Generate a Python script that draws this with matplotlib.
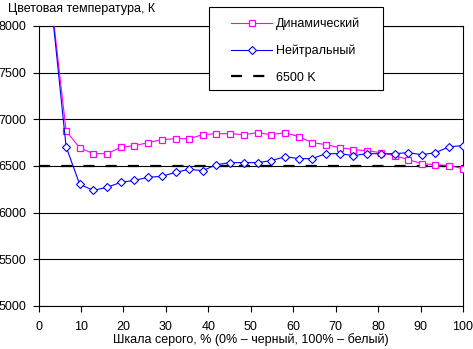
import matplotlib.pyplot as plt
from matplotlib.patches import Rectangle

# --- Datos ---
gray_pct = [3.2, 6.5, 9.7, 12.9, 16.1, 19.4, 22.6, 25.8, 29.0, 32.3, 35.5,
            38.7, 41.9, 45.2, 48.4, 51.6, 54.8, 58.1, 61.3, 64.5, 67.7, 71.0,
            74.2, 77.4, 80.6, 83.9, 87.1, 90.3, 93.5, 96.8, 100.0]

dynamic = [8200, 6875, 6695, 6632, 6632, 6700, 6718, 6750, 6782, 6793, 6793,
           6836, 6846, 6846, 6836, 6857, 6836, 6857, 6814, 6750, 6729, 6696,
           6675, 6664, 6643, 6611, 6568, 6525, 6514, 6504, 6471]

neutral = [8160, 6707, 6304, 6239, 6271, 6325, 6346, 6379, 6389, 6432, 6465,
           6450, 6514, 6536, 6536, 6536, 6557, 6600, 6579, 6579, 6632, 6632,
           6611, 6632, 6632, 6632, 6643, 6621, 6643, 6707, 6718]

ref_temp = 6500
y_ticks = [5000, 5500, 6000, 6500, 7000, 7500, 8000]
x_ticks = [0, 10, 20, 30, 40, 50, 60, 70, 80, 90, 100]

plt.rcParams['font.family'] = ['Liberation Sans', 'DejaVu Sans']
plt.rcParams['font.size'] = 9

W, H = 473, 349
fig = plt.figure(figsize=(W / 100, H / 100), dpi=100)
ax = fig.add_axes([38.5 / W, 1 - 306 / H, (463 - 38.5) / W, 280 / H])

for y in y_ticks:
    ax.axhline(y, color='black', lw=0.8, zorder=1)

ax.plot(gray_pct, dynamic, color='#FF00FF', lw=0.8, marker='s', markersize=5,
        markerfacecolor='white', markeredgecolor='#FF00FF', markeredgewidth=0.9,
        label='Динамический', zorder=3)
ax.plot(gray_pct, neutral, color='#0000FF', lw=0.8, marker='D', markersize=4,
        markerfacecolor='white', markeredgecolor='#0000FF', markeredgewidth=0.8,
        label='Нейтральный', zorder=3)
ax.axhline(ref_temp, color='black', lw=1.6, dashes=(5, 5), label='6500 K', zorder=2)

ax.set_xlim(0, 100)
ax.set_ylim(5000, 8000)
ax.set_xticks(x_ticks)
ax.set_yticks(y_ticks)
ax.tick_params(axis='y', direction='out', length=4, width=0.8, pad=4.5)
ax.tick_params(axis='x', direction='out', length=4, width=0.8, pad=7)
for s in ax.spines.values():
    s.set_linewidth(0.8)

ax.set_xlabel('Шкала серого, % (0% – черный, 100% – белый)', labelpad=0)
fig.text(8 / W, 1 - 9 / H, 'Цветовая температура, К', ha='left', va='center')

# Leyenda: marco dibujado aparte para fijar su tamaño
fig.patches.append(Rectangle((209 / W, 1 - 90 / H), 174 / W, 83 / H,
                             transform=fig.transFigure, facecolor='white',
                             edgecolor='black', lw=0.8, zorder=5))
leg = fig.legend(loc='upper left', bbox_to_anchor=(231 / W, 1 - 18 / H),
                 frameon=False, handlelength=3.3, handletextpad=0.3,
                 labelspacing=1.15, borderpad=0, borderaxespad=0)
leg.set_zorder(6)

fig.savefig('out.png', dpi=100)
